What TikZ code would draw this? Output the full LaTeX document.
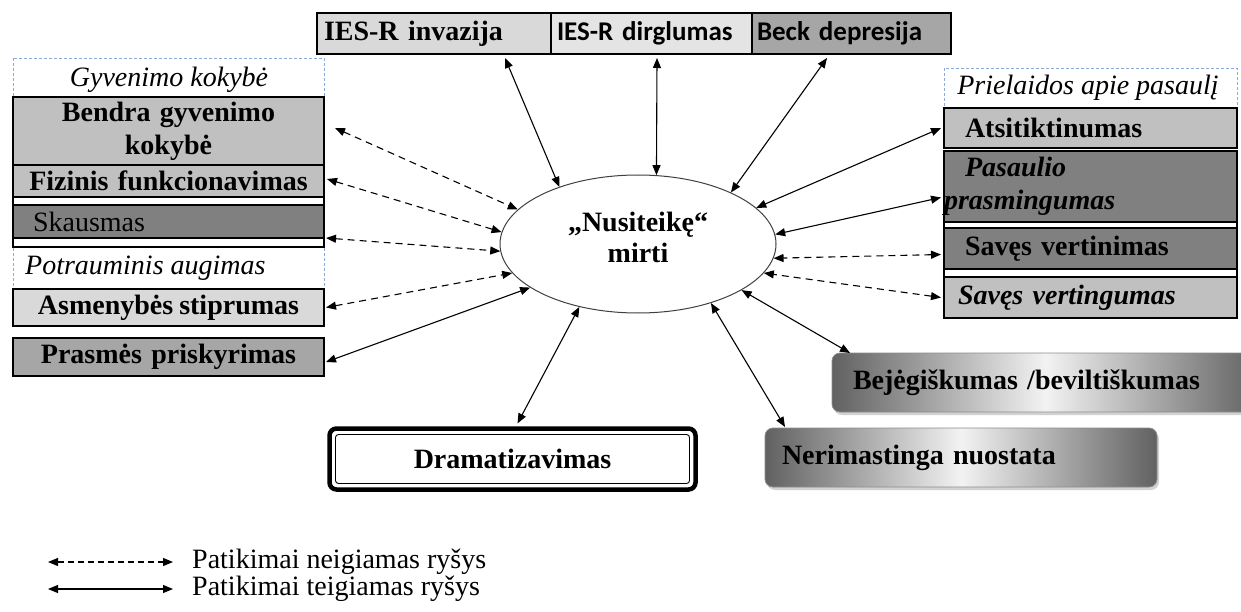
\documentclass[tikz,border=0pt]{standalone}
\usepackage{fontspec}
\setmainfont{Liberation Serif}
\newfontfamily\calfont{Carlito}
\usetikzlibrary{arrows.meta,calc,shadows,shapes.geometric}
\definecolor{grpblue}{HTML}{8EA9DB}
\definecolor{gLight}{HTML}{D9D9D9}
\definecolor{gLighter}{HTML}{E4E4E4}
\definecolor{gMid}{HTML}{C0C0C0}
\definecolor{gMidDark}{HTML}{A6A6A6}
\definecolor{gDark}{HTML}{808080}
\newcommand\myfs{\fontsize{28}{31}\selectfont}
\newcommand\myfsl{\fontsize{28}{33}\selectfont}
\tikzset{
  box/.style={draw=black, line width=1.1pt, anchor=north west, inner sep=0pt, outer sep=0pt, font=\myfs\bfseries},
  outl/.style={draw=black, line width=1.1pt},
  grp/.style={draw=grpblue, line width=0.8pt, dash pattern=on 3pt off 2pt},
  lbl/.style={font=\myfs\itshape, inner sep=0pt},
  conn/.style={line width=1.1pt, {Triangle[length=10pt,width=8pt]}-{Triangle[length=10pt,width=8pt]}},
  dconn/.style={conn, dash pattern=on 7pt off 5pt},
  gbox/.style={anchor=north west, rounded corners=8pt, draw=black!45, line width=0.8pt,
    left color=black!62, right color=black!62, middle color=black!5,
    drop shadow={shadow xshift=2pt, shadow yshift=-3pt, opacity=0.35},
    font=\myfs\bfseries, inner sep=0pt, outer sep=0pt}
}
\begin{document}
\begin{tikzpicture}[x=1pt,y=-1pt]
\useasboundingbox[fill=white] (0,0) rectangle (1241,612);

% ---------- left group ----------
\draw[grp] (13,58) rectangle (324,289);
\node[lbl] (gklbl) at (169,80) {Gyvenimo kokybė};
\node[box, fill=gMid, minimum width=311, minimum height=68, text width=311, align=center, font=\myfsl\bfseries] (bendra) at (13,97) {Bendra gyvenimo\\kokybė};
\draw[outl, fill=white] (13,165) rectangle (324,205);
\node[box, fill=gMid, minimum width=311, minimum height=32, text width=311, align=center] (fizinis) at (13,165) {Fizinis funkcionavimas};
\draw[outl, fill=white] (13,205) rectangle (324,247);
\node[box, fill=gDark, minimum width=311, minimum height=33, text width=271, inner xsep=20pt, align=left, font=\myfs] (skausmas) at (13,205) {Skausmas};
\node[lbl, anchor=west] (palbl) at (25,268) {Potrauminis augimas};
\node[box, fill=gLight, minimum width=311, minimum height=37, text width=311, align=center] (asmen) at (13,289) {Asmenybės\hspace{6pt}stiprumas};
\node[box, fill=gMidDark, minimum width=311, minimum height=38, text width=311, align=center] (prasmes) at (13,338) {Prasmės priskyrimas};

% ---------- top row ----------
\node[box, fill=gLight, minimum width=234, minimum height=41, text width=220, inner xsep=7pt, align=left] (invazija) at (317,13) {IES-R invazija};
\node[box, fill=gLighter, minimum width=201, minimum height=41, text width=189, inner xsep=6pt, align=left, font=\calfont\bfseries\fontsize{27}{30}\selectfont] (dirgl) at (551,13) {IES-R dirglumas};
\node[box, fill=gMidDark, minimum width=199, minimum height=41, text width=189, inner xsep=5pt, align=left, font=\calfont\bfseries\fontsize{27}{30}\selectfont] (beck) at (752,13) {Beck depresija};

% ---------- right group ----------
\draw[grp] (944,68) rectangle (1237,110);
\node[lbl] (prlbl) at (1088,88) {Prielaidos apie pasaulį};
\node[box, fill=gMid, minimum width=293, minimum height=40, text width=293, align=left] (atsit) at (944,108) {\hspace*{21pt}Atsitiktinumas};
\draw[outl, fill=white] (944,151) rectangle (1237,228);
\node[box, fill=gDark, minimum width=293, minimum height=71, text width=293, align=left, font=\myfsl\bfseries\itshape] (pasaulio) at (944,151) {\hspace*{21pt}Pasaulio\\prasmingumas};
\draw[outl, fill=white] (944,228) rectangle (1237,277);
\node[box, fill=gDark, minimum width=293, minimum height=41, text width=293, align=left] (vertin) at (944,228) {\hspace*{21pt}Savęs vertinimas};
\node[box, fill=gMid, minimum width=293, minimum height=41, text width=293, align=left, font=\myfs\bfseries\itshape] (verting) at (944,277) {\hspace*{14pt}Savęs vertingumas};

% ---------- centre ----------
\node[ellipse, draw=black!75, line width=1pt, fill=white, minimum width=276, minimum height=138, inner sep=0pt] (ell) at (638,244) {};
\node[font=\myfs\bfseries, align=center, inner sep=0pt] (elltxt) at (638,237) {„Nusiteikę“\\mirti};

% ---------- bottom boxes ----------
\node[draw=black, line width=4.5pt, rounded corners=7pt, anchor=north west, minimum width=366, minimum height=61, inner sep=0pt, outer sep=0pt, font=\myfs\bfseries] (drama) at (329.5,428.5) {Dramatizavimas};
\draw[line width=0.9pt, rounded corners=3pt] ($(drama.north west)+(6,6)$) rectangle ($(drama.south east)+(-6,-6)$);
\node[gbox, minimum width=375, minimum height=59, text width=358, inner xsep=17pt, align=left] (nerim) at (765,428) {Nerimastinga nuostata};
\node[gbox, minimum width=406, minimum height=59, text width=385, inner xsep=21pt, align=left] (bejeg) at (832,353) {Bejėgiškumas /beviltiškumas};

% ---------- connectors ----------
\draw[conn] ($(invazija.south west)+(188,4)$) -- (ell.144);
\draw[conn] ($(dirgl.south west)+(106,4)$) -- (ell.75);
\draw[conn] ($(beck.south west)+(75,4)$) -- (ell.29);

\draw[dconn] ($(bendra.north east)+(11,31)$) -- (ell.164);
\draw[dconn] ($(fizinis.north east)+(3,14)$) -- (ell.175);
\draw[dconn] ($(skausmas.south east)+(2,0)$) -- (ell.183);
\draw[dconn] ($(asmen.east)+(2,0)$) -- (ell.193);
\draw[conn] ($(prasmes.east)+(2,5)$) -- (ell.202);

\draw[conn] ($(atsit.west)+(-3,0)$) -- (ell.17);
\draw[conn] ($(pasaulio.west)+(-3,11)$) -- (ell.4);
\draw[dconn] ($(vertin.west)+(-3,6)$) -- (ell.354);
\draw[dconn] ($(verting.west)+(-3,0)$) -- (ell.347);
\draw[conn] ($(bejeg.north west)+(18,0)$) -- (ell.336);
\draw[conn] ($(nerim.north west)+(20,-1)$) -- (ell.321);
\draw[conn] ($(drama.north)+(5,-5)$) -- (ell.227);

% ---------- legend ----------
\coordinate (la1) at (48,562);
\coordinate (lb1) at (173,562);
\coordinate (la2) at (48,589);
\coordinate (lb2) at (173,589);
\draw[conn, dash pattern=on 6pt off 4pt] (la1) -- (lb1);
\draw[conn] (la2) -- (lb2);
\node[anchor=west, font=\myfs, inner sep=0pt] (leg1) at (192,562) {Patikimai neigiamas ryšys};
\node[anchor=west, font=\myfs, inner sep=0pt] (leg2) at (192,589) {Patikimai teigiamas ryšys};
\end{tikzpicture}
\end{document}
